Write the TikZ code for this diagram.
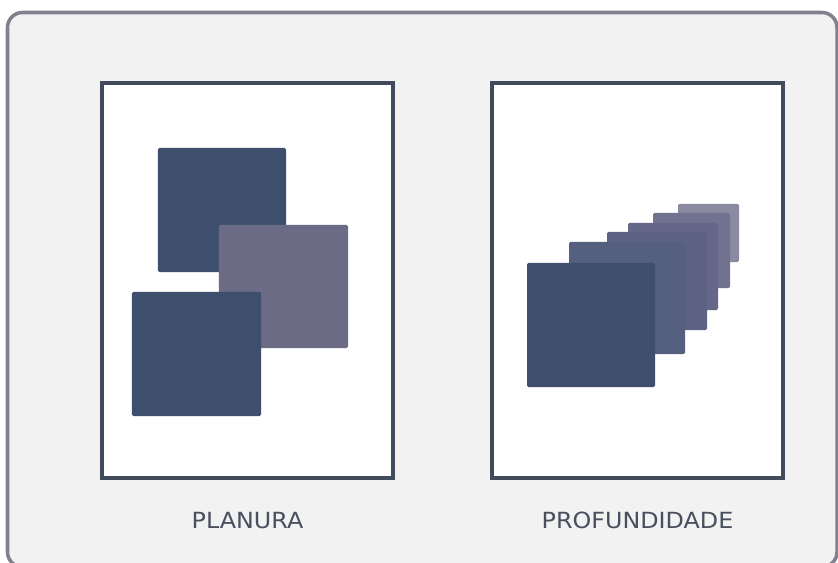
\documentclass[tikz,border=0pt]{standalone}
\usepackage{fontspec}
\setsansfont{DejaVu Sans}
\usepackage{tikz}
\usetikzlibrary{positioning}
\definecolor{frameline}{HTML}{80808F}
\definecolor{framefill}{HTML}{F2F2F2}
\definecolor{panelline}{HTML}{424B5B}
\definecolor{navy}{HTML}{3E4F6E}
\definecolor{slate}{HTML}{6B6B86}
\definecolor{depthA}{HTML}{55607F}
\definecolor{depthB}{HTML}{5D6283}
\definecolor{depthC}{HTML}{646787}
\definecolor{depthD}{HTML}{707290}
\definecolor{depthE}{HTML}{8A8AA0}
\definecolor{labelgray}{HTML}{4A4F5E}
\tikzset{
  panel/.style={
    rectangle, draw=panelline, fill=white, line width=2.8pt,
    minimum width=8.73cm, minimum height=11.85cm, inner sep=0pt
  },
  tile/.style={
    rectangle, fill=#1, rounded corners=1.2pt, inner sep=0pt
  },
  tile/.default=navy,
  caption/.style={
    font=\sffamily\fontsize{19}{22}\selectfont\addfontfeature{FakeStretch=1.07},
    color=labelgray, inner sep=0pt
  },
}

\begin{document}
\begin{tikzpicture}[x=0.03cm, y=-0.03cm]
  % Canvas
  \useasboundingbox (0,0) rectangle (838,563);
  \clip (0,0) rectangle (838,563);
  \fill[white] (0,0) rectangle (838,563);
  \draw[frameline, fill=framefill, line width=3pt, rounded corners=0.45cm]
    (7.5,12.5) rectangle (837,567);

  % Panels
  \node[panel] (flat) at (247.5,280.5) {};
  \node[panel] (deep) at (637.5,280.5) {};

  % Flat tiles
  \node[tile, minimum width=3.84cm, minimum height=3.72cm] (flatA) at (222,210) {};
  \node[tile=slate, minimum width=3.87cm, minimum height=3.69cm] (flatB) at (283.5,286.5) {};
  \node[tile, minimum width=3.87cm, minimum height=3.72cm] (flatC) at (196.5,354) {};

  % Depth tiles
  \node[tile=depthE, minimum width=1.83cm, minimum height=1.74cm] (deepF) at (708.5,233) {};
  \node[tile=depthD, minimum width=2.31cm, minimum height=2.25cm] (deepE) at (691.5,250.5) {};
  \node[tile=depthC, minimum width=2.70cm, minimum height=2.61cm] (deepD) at (673,266.5) {};
  \node[tile=depthB, minimum width=3.00cm, minimum height=2.94cm] (deepC) at (657,281) {};
  \node[tile=depthA, minimum width=3.48cm, minimum height=3.36cm] (deepB) at (627,298) {};
  \node[tile, minimum width=3.84cm, minimum height=3.72cm] (deepA) at (591,325) {};

  % Captions
  \node[caption, below=0.96cm of flat.south] (flatlbl) {PLANURA};
  \node[caption, below=0.96cm of deep.south] (deeplbl) {PROFUNDIDADE};
\end{tikzpicture}
\end{document}
